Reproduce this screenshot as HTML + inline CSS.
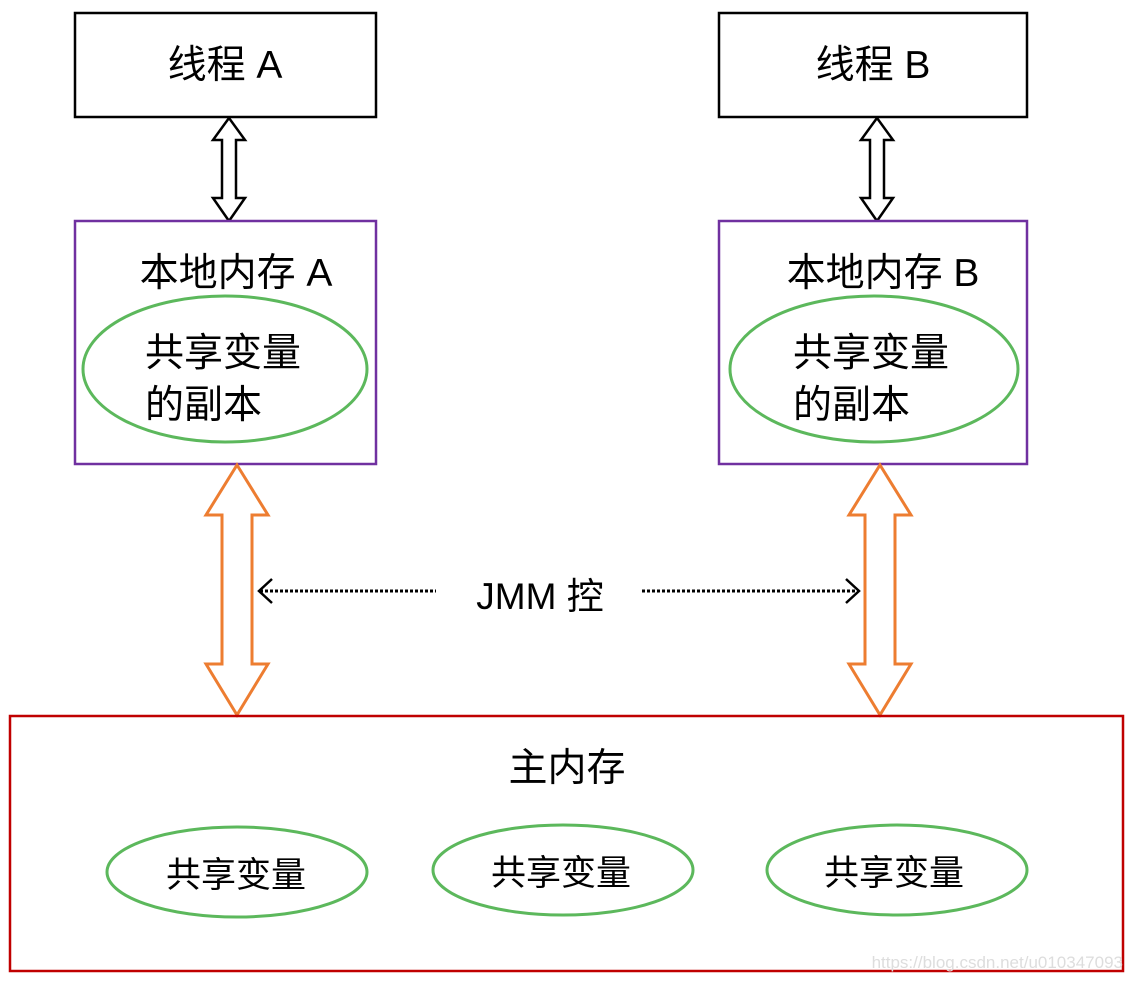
<!DOCTYPE html>
<html><head><meta charset="utf-8"><style>
body{margin:0;background:#fff;width:1134px;height:982px;overflow:hidden}
text{font-family:"Liberation Sans","Noto Sans CJK SC",sans-serif;fill:#000}
</style></head><body>
<svg width="1134" height="982" viewBox="0 0 1134 982" xmlns="http://www.w3.org/2000/svg">
<!-- thread boxes -->
<rect x="75" y="13" width="301" height="104" fill="#fff" stroke="#000" stroke-width="2.5"/>
<rect x="719" y="13" width="308" height="104" fill="#fff" stroke="#000" stroke-width="2.5"/>
<text x="225" y="78" font-size="39" text-anchor="middle">线程 A</text>
<text x="873" y="78" font-size="39" text-anchor="middle">线程 B</text>
<!-- black arrows -->
<polygon points="229,118 245,140 236,140 236,198 245,198 229,221 213,198 222,198 222,140 213,140" fill="#fff" stroke="#000" stroke-width="2.5"/>
<polygon points="877,118 893,140 884,140 884,198 893,198 877,221 861,198 870,198 870,140 861,140" fill="#fff" stroke="#000" stroke-width="2.5"/>
<!-- local memory boxes -->
<rect x="75" y="221" width="301" height="243" fill="#fff" stroke="#7030a0" stroke-width="2.5"/>
<rect x="719" y="221" width="308" height="243" fill="#fff" stroke="#7030a0" stroke-width="2.5"/>
<text x="236" y="286" font-size="39" text-anchor="middle">本地内存 A</text>
<text x="883" y="286" font-size="39" text-anchor="middle">本地内存 B</text>
<ellipse cx="225" cy="369" rx="142" ry="73" fill="none" stroke="#5cb85c" stroke-width="3"/>
<ellipse cx="874" cy="369" rx="144" ry="73" fill="none" stroke="#5cb85c" stroke-width="3"/>
<text x="145" y="366" font-size="39">共享变量</text>
<text x="145" y="418" font-size="39">的副本</text>
<text x="793" y="366" font-size="39">共享变量</text>
<text x="793" y="418" font-size="39">的副本</text>
<!-- orange arrows -->
<polygon points="237,465 268,515 252,515 252,664 268,664 237,715 206,664 222,664 222,515 206,515" fill="#fff" stroke="#ed7d31" stroke-width="3"/>
<polygon points="880,465 911,515 895,515 895,664 911,664 880,715 849,664 865,664 865,515 849,515" fill="#fff" stroke="#ed7d31" stroke-width="3"/>
<!-- dotted JMM arrows -->
<line x1="260" y1="591" x2="436" y2="591" stroke="#000" stroke-width="3" stroke-dasharray="3,2"/>
<polyline points="272,579 259,591 272,603" fill="none" stroke="#000" stroke-width="2.5"/>
<line x1="642" y1="591" x2="858" y2="591" stroke="#000" stroke-width="3" stroke-dasharray="3,2"/>
<polyline points="846,579 859,591 846,603" fill="none" stroke="#000" stroke-width="2.5"/>
<text x="540" y="609" font-size="37" text-anchor="middle">JMM 控</text>
<!-- main memory -->
<rect x="10" y="716" width="1113" height="255" fill="none" stroke="#c00000" stroke-width="2.5"/>
<text x="567" y="781" font-size="39" text-anchor="middle">主内存</text>
<ellipse cx="237" cy="872" rx="130" ry="45" fill="none" stroke="#5cb85c" stroke-width="3"/>
<ellipse cx="563" cy="870" rx="130" ry="45" fill="none" stroke="#5cb85c" stroke-width="3"/>
<ellipse cx="897" cy="870" rx="130" ry="45" fill="none" stroke="#5cb85c" stroke-width="3"/>
<text x="236" y="887" font-size="35" text-anchor="middle">共享变量</text>
<text x="561" y="885" font-size="35" text-anchor="middle">共享变量</text>
<text x="894" y="885" font-size="35" text-anchor="middle">共享变量</text>
<text x="1123" y="968" font-size="17" text-anchor="end" style="fill:#ddd">https://blog.csdn.net/u010347093</text>
</svg>
</body></html>
